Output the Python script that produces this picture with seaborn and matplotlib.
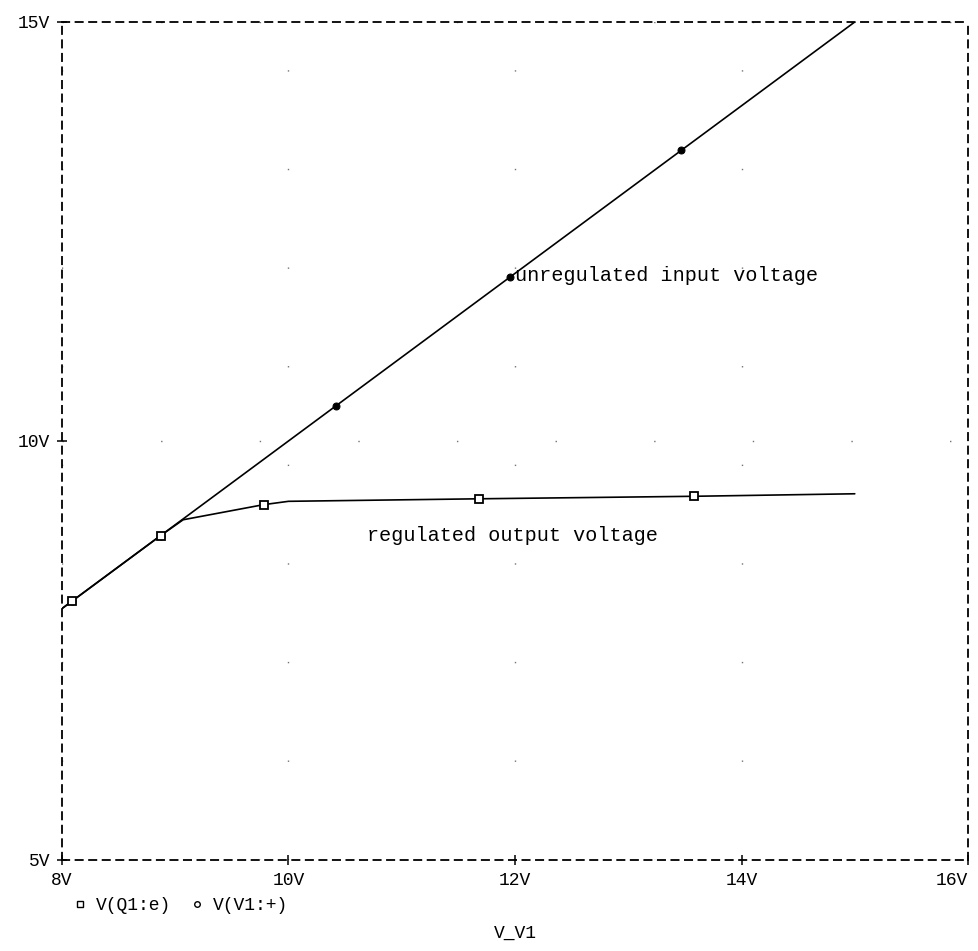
"""
PSpice-style DC sweep: unregulated input vs regulated emitter output.
"""

import matplotlib

matplotlib.use("Agg")
import matplotlib.pyplot as plt
import pandas as pd
import seaborn as sns
from matplotlib.lines import Line2D

# sweep of V_V1 and the two probed traces
v_sweep_out = [8.0, 8.09, 8.87, 9.07, 9.78, 10.0, 11.68, 13.58, 15.0]
v_q1_e = [8.0, 8.09, 8.87, 9.06, 9.24, 9.28, 9.31, 9.34, 9.37]
out_marks = [1, 2, 4, 6, 7]

v_sweep_in = [8.0, 8.09, 8.87, 10.42, 11.96, 13.47, 15.0]
v_v1_plus = [8.0, 8.09, 8.87, 10.42, 11.96, 13.47, 15.0]
in_marks = [1, 2, 3, 4, 5]

x_ticks = [8, 10, 12, 14, 16]
x_labels = ["8V", "10V", "12V", "14V", "16V"]
y_ticks = [5, 10, 15]
y_labels = ["5V", "10V", "15V"]

df_out = pd.DataFrame({"V_V1": v_sweep_out, "V": v_q1_e})
df_in = pd.DataFrame({"V_V1": v_sweep_in, "V": v_v1_plus})

sns.set_style("white")
plt.rcParams["font.family"] = ["Liberation Mono", "DejaVu Sans Mono"]
plt.rcParams["text.color"] = "black"
plt.rcParams["axes.labelcolor"] = "black"

fig = plt.figure(figsize=(9.79, 9.51), dpi=100)
ax = fig.add_axes([0.0633, 0.0957, 0.9255, 0.8812])

# input trace first so the squares of the output trace sit on top
sns.lineplot(data=df_in, x="V_V1", y="V", ax=ax, color="black", lw=1.2,
             marker="o", markevery=in_marks, markersize=5,
             markerfacecolor="black", markeredgecolor="black")
sns.lineplot(data=df_out, x="V_V1", y="V", ax=ax, color="black", lw=1.2,
             marker="s", markevery=out_marks, markersize=6,
             markerfacecolor="white", markeredgecolor="black", markeredgewidth=1.3)

ax.set_xlim(8, 16)
ax.set_ylim(5, 15)
ax.set_xticks(x_ticks, x_labels)
ax.set_yticks(y_ticks, y_labels)
ax.tick_params(bottom=True, left=True, direction="inout", length=7, width=1.1,
               color="black", labelsize=13, labelcolor="black")
ax.tick_params(axis="x", pad=5)
ax.tick_params(axis="y", pad=5)
ax.get_xticklabels()[-1].set_horizontalalignment("right")

# sparse dotted grid, like the plotter output
ax.grid(True, color="0.45", lw=1.0, linestyle=(0, (1, 70)))

for sp in ax.spines.values():
    sp.set_visible(True)
    sp.set_color("black")
    sp.set_linewidth(1.3)
    sp.set_linestyle((0, (4, 3.5)))

ax.set_xlabel("V_V1", fontsize=13, labelpad=26)
ax.set_ylabel("")

ax.text(12.0, 11.97, "unregulated input voltage", fontsize=14.5,
        ha="left", va="center")
ax.text(10.69, 8.87, "regulated output voltage", fontsize=14.5,
        ha="left", va="center")

handles = [
    Line2D([], [], ls="none", marker="s", markersize=5, markerfacecolor="white",
           markeredgecolor="black", markeredgewidth=1.0),
    Line2D([], [], ls="none", marker="o", markersize=4, markerfacecolor="white",
           markeredgecolor="black", markeredgewidth=1.0),
]
fig.legend(handles, ["V(Q1:e)", "V(V1:+)"], loc="center left",
           bbox_to_anchor=(0.056, 0.048), ncol=2, frameon=False, fontsize=13,
           handlelength=1.0, handletextpad=0.4, columnspacing=0.9)

fig.savefig("out.png", dpi=100)
